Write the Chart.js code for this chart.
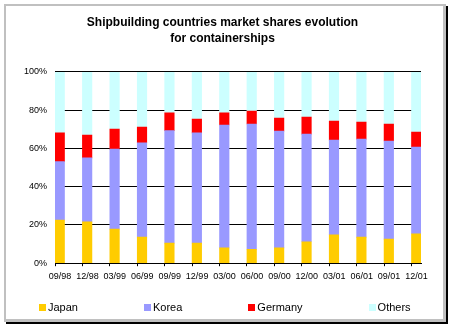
<!DOCTYPE html>
<html>
<head>
<meta charset="utf-8">
<script src="https://cdn.jsdelivr.net/npm/chart.js@4/dist/chart.umd.min.js"></script>
<style>
html,body{margin:0;padding:0;background:#fff;width:452px;height:328px;overflow:hidden;font-family:"Liberation Sans",Arial,sans-serif;}
#frame{position:absolute;left:4px;top:4px;width:442px;height:318px;box-sizing:border-box;border:3px solid #c0c0c0;border-top-width:2px;border-left-width:2px;box-shadow:2px 2px 0 #000;background:#fff;}
#c{position:absolute;left:0;top:0;}
#legend{position:absolute;left:39px;top:300px;height:14px;display:flex;gap:66px;font-size:11px;line-height:14px;color:#000;}
.item{display:flex;align-items:center;white-space:nowrap;}
.sw{width:7px;height:7px;margin-right:2px;}
</style>
</head>
<body>
<div id="frame"></div>
<canvas id="c" width="452" height="328"></canvas>
<div id="legend"></div>
<script>
const categories = ['09/98','12/98','03/99','06/99','09/99','12/99','03/00','06/00','09/00','12/00','03/01','06/01','09/01','12/01'];
const seriesNames = ['Japan','Korea','Germany','Others'];
const japan   = [22.5, 21.6, 17.8, 13.6, 10.5, 10.5,  8.0,  7.3,  8.0, 11.2, 14.8, 13.6, 12.6, 15.4];
const korea   = [30.6, 33.5, 41.9, 49.4, 58.8, 57.7, 64.3, 65.5, 61.1, 56.3, 49.6, 51.3, 51.3, 45.3];
const germany = [15.1, 11.9, 10.5,  8.2,  9.4,  7.2,  6.4,  6.8,  6.8,  8.9,  9.9,  8.9,  8.9,  7.9];
const others  = [31.8, 33.0, 29.8, 28.8, 21.3, 24.6, 21.3, 20.4, 24.1, 23.6, 25.7, 26.2, 27.2, 31.4];
const yTicks = [0, 20, 40, 60, 80, 100];

const colors = ['#FFCC00', '#9999FF', '#FF0000', '#CCFFFF'];
const seriesValues = [japan, korea, germany, others];
const EDGE = 0.173;
const FONT = '"Liberation Sans", Arial, sans-serif';

const datasets = seriesValues.map((vals, k) => ({
  label: seriesNames[k],
  data: vals.map((v, i) => ({x: i, y: v})),
  backgroundColor: colors[k],
  borderWidth: 0,
  barThickness: 9.5
}));

new Chart(document.getElementById('c'), {
  type: 'bar',
  data: { datasets },
  options: {
    responsive: false,
    devicePixelRatio: 1,
    animation: false,
    layout: { padding: { left: 24, right: 31, top: 0, bottom: 41 } },
    plugins: {
      legend: { display: false },
      tooltip: { enabled: false },
      title: {
        display: true,
        text: ['Shipbuilding countries market shares evolution', 'for containerships'],
        color: '#000',
        font: { family: FONT, size: 12, weight: 'bold', lineHeight: 1.3333 },
        padding: { top: 15, bottom: 25 }
      }
    },
    scales: {
      x: {
        type: 'linear',
        stacked: true,
        offset: false,
        min: -EDGE,
        max: categories.length - 1 + EDGE,
        afterBuildTicks: (scale) => { scale.ticks = categories.map((c, i) => ({ value: i - EDGE })); },
        ticks: {
          autoSkip: false,
          maxRotation: 0,
          labelOffset: 5,
          padding: 5,
          color: '#000',
          font: { family: FONT, size: 9 },
          callback: (v, i) => categories[i]
        },
        grid: { display: true, offset: false, drawOnChartArea: false, drawTicks: true, tickLength: 3, color: '#000' },
        border: { display: true, color: '#000', width: 1 }
      },
      y: {
        stacked: true,
        min: 0,
        max: 100,
        afterBuildTicks: (scale) => { scale.ticks = yTicks.map(v => ({ value: v })); },
        afterFit: (scale) => { scale.width = 31; },
        ticks: {
          padding: 8,
          color: '#000',
          font: { family: FONT, size: 9 },
          callback: (v) => v + '%'
        },
        grid: { color: '#000', drawTicks: false, lineWidth: 1 },
        border: { display: false }
      }
    }
  }
});

const leg = document.getElementById('legend');
seriesNames.forEach((n, k) => {
  const it = document.createElement('div');
  it.className = 'item';
  const sw = document.createElement('span');
  sw.className = 'sw';
  sw.style.background = colors[k];
  const tx = document.createElement('span');
  tx.textContent = n;
  it.appendChild(sw);
  it.appendChild(tx);
  leg.appendChild(it);
});
</script>
</body>
</html>
